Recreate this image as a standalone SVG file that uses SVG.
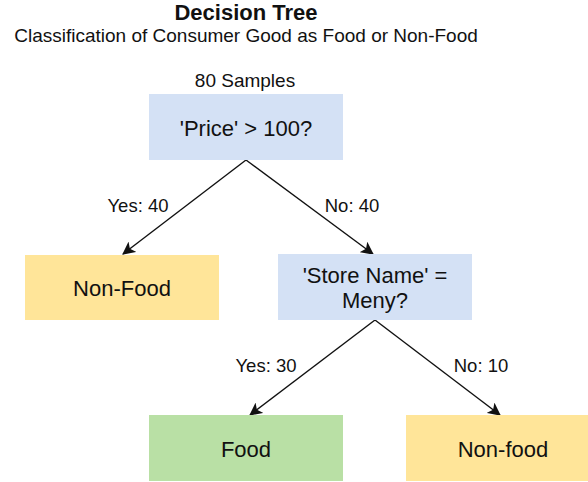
<svg xmlns="http://www.w3.org/2000/svg" width="588" height="482" viewBox="0 0 588 482">
  <style>
    text { font-family: "Liberation Sans", Arial, Helvetica, sans-serif; fill: #111; }
    .title { font-size: 22px; font-weight: bold; text-anchor: middle; }
    .sub { font-size: 19px; text-anchor: middle; }
    .node-text { font-size: 22px; text-anchor: middle; }
    .lbl { font-size: 18.5px; text-anchor: middle; }
    .decision { fill: #d4e1f5; }
    .nonfood { fill: #ffe599; }
    .food { fill: #b9e0a5; }
    .edge { stroke: #111; stroke-width: 1.4; fill: none; marker-end: url(#arrow); }
  </style>
  <defs>
    <marker id="arrow" viewBox="0 0 12 12" refX="11" refY="6" markerWidth="13" markerHeight="13" markerUnits="userSpaceOnUse" orient="auto">
      <path d="M0,0 L12,6 L0,12 L3,6 Z" fill="#111"/>
    </marker>
  </defs>

  <rect width="588" height="482" fill="#ffffff"/>

  <g id="heading">
    <text class="title" x="246" y="20">Decision Tree</text>
    <text class="sub" x="246" y="42">Classification of Consumer Good as Food or Non-Food</text>
    <text class="sub" x="245" y="87">80 Samples</text>
  </g>

  <g id="connectors">
    <path class="edge" d="M246,160 L123,254"/>
    <path class="edge" d="M246,160 L373,254"/>
    <path class="edge" d="M375,320 L250,415"/>
    <path class="edge" d="M375,320 L500,415"/>
    <text class="lbl" x="138" y="212">Yes: 40</text>
    <text class="lbl" x="352" y="212">No: 40</text>
    <text class="lbl" x="266" y="372">Yes: 30</text>
    <text class="lbl" x="481" y="372">No: 10</text>
  </g>

  <g id="node-price">
    <rect class="decision" x="149" y="94" width="194" height="66"/>
    <text class="node-text" x="246" y="136">'Price' &gt; 100?</text>
  </g>

  <g id="node-nonfood-left">
    <rect class="nonfood" x="25" y="255" width="194" height="65"/>
    <text class="node-text" x="122" y="296">Non-Food</text>
  </g>

  <g id="node-store">
    <rect class="decision" x="278" y="254" width="194" height="66"/>
    <text class="node-text" x="375" y="283">'Store Name' =</text>
    <text class="node-text" x="375" y="308">Meny?</text>
  </g>

  <g id="node-food">
    <rect class="food" x="149" y="415" width="194" height="66"/>
    <text class="node-text" x="246" y="457">Food</text>
  </g>

  <g id="node-nonfood-right">
    <rect class="nonfood" x="406" y="415" width="194" height="66"/>
    <text class="node-text" x="503" y="457">Non-food</text>
  </g>
</svg>
